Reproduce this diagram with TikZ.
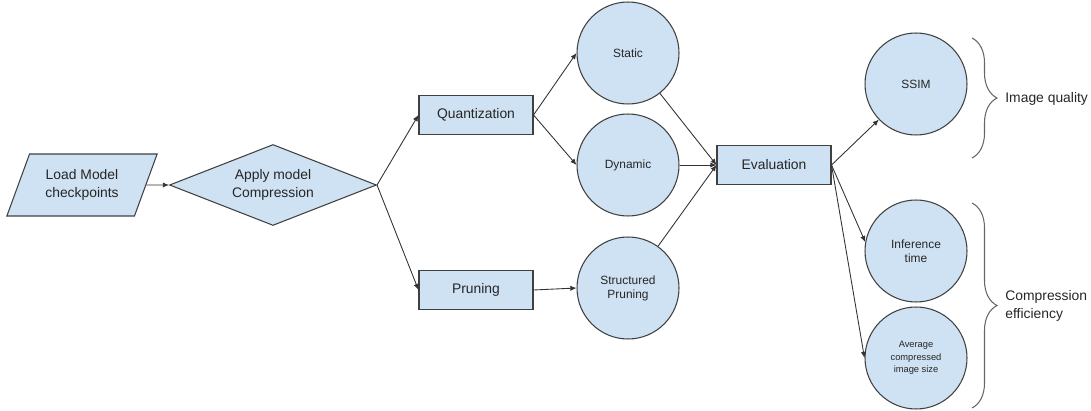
\documentclass[tikz,border=0pt]{standalone}
\usepackage{fontspec}
\setmainfont{Liberation Sans}
\usetikzlibrary{shapes.geometric, arrows.meta, decorations.pathreplacing}
\definecolor{boxblue}{HTML}{CFE2F3}
\definecolor{edgegray}{HTML}{404040}
\newcommand{\bigtxt}{\fontsize{7.9}{10}\selectfont}
\newcommand{\midtxt}{\fontsize{6.8}{8}\selectfont}
\newcommand{\smalltxt}{\fontsize{5.3}{7}\selectfont}

\begin{document}
\begin{tikzpicture}[x=0.02cm, y=-0.02cm,
    base/.style={draw=edgegray, fill=boxblue, line width=0.6pt, text=black!85, align=center, inner sep=1pt},
    box/.style={base, rectangle, minimum width=2.28cm, minimum height=0.78cm, font=\bigtxt},
    circ/.style={base, circle, minimum size=2.04cm, font=\midtxt},
    arr/.style={draw=black!80, line width=0.5pt, -{Latex[length=3.5pt, width=3pt]}},
    brc/.style={draw=black!60, line width=0.6pt, decorate, decoration={brace, amplitude=0.5cm}}]

    \useasboundingbox (0,0) rectangle (1091,411);

    \node[base, trapezium, trapezium left angle=64, trapezium right angle=116, trapezium stretches=true,
          minimum width=3.02cm, minimum height=1.24cm, font=\bigtxt] (load) at (82,185) {Load Model\\checkpoints};
    \node[base, diamond, aspect=2.5, minimum width=4.14cm, minimum height=1.62cm, font=\bigtxt] (apply) at (273,185) {Apply model\\Compression};

    \node[box] (quant) at (476,115) {Quantization};
    \node[box] (prune) at (476,290) {Pruning};

    \node[circ] (static) at (628,53) {Static};
    \node[circ] (dynamic) at (628,165) {Dynamic};
    \node[circ] (struct) at (628,288) {Structured\\Pruning};

    \node[box] (eval) at (774,165) {Evaluation};

    \node[circ] (ssim) at (916,84) {SSIM};
    \node[circ] (infer) at (916,251) {Inference\\time};
    \node[circ, font=\smalltxt] (avgsize) at (916,358) {Average\\compressed\\image size};


    \draw[arr] (load) -- (apply);
    \draw[arr] (apply.east) -- (quant.west);
    \draw[arr] (apply.east) -- (prune.west);
    \draw[arr] (quant.east) -- (static.west);
    \draw[arr] (quant.east) -- (dynamic.west);
    \draw[arr] (prune.east) -- (struct.west);
    \draw[arr] (static) -- (eval.west);
    \draw[arr] (dynamic.east) -- (eval.west);
    \draw[arr] (struct) -- (eval.west);
    \draw[arr] (eval.east) -- (ssim);
    \draw[arr] (eval.east) -- (infer.170);
    \draw[arr] (eval.east) -- (avgsize.west);


    \coordinate (qualtop) at (972,38); \coordinate (qualbot) at (972,158);
    \draw[brc] (qualtop) -- (qualbot);
    \node[anchor=west, inner sep=0pt, font=\bigtxt, text=black!85] (quality) at (1005,99) {Image quality};

    \coordinate (efftop) at (972,203); \coordinate (effbot) at (972,408);
    \draw[brc] (efftop) -- (effbot);
    \node[anchor=west, inner sep=0pt, align=left, font=\bigtxt, text=black!85] (effic) at (1005,306) {Compression\\efficiency};
\end{tikzpicture}
\end{document}
